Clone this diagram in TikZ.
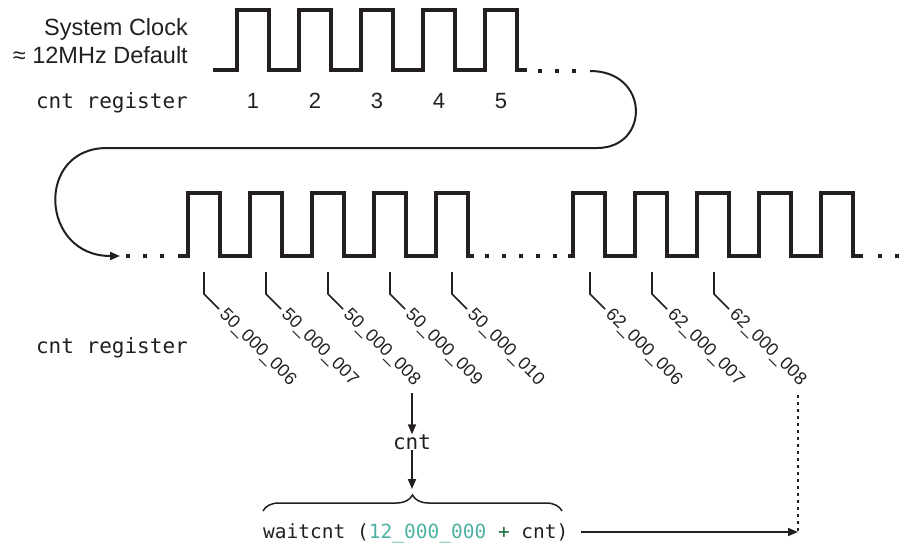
\documentclass[tikz,border=0pt]{standalone}
\usepackage{fontspec}
\setmainfont{Liberation Sans}
\newfontfamily\monofam{DejaVu Sans Mono}
\usetikzlibrary{arrows.meta,decorations.pathreplacing}
\definecolor{ink}{RGB}{35,31,32}
\definecolor{tealnum}{RGB}{78,178,163}
\definecolor{plusgreen}{RGB}{30,110,60}
\tikzset{
  wave/.style={draw=ink,line width=3.4pt,line join=miter},
  tickline/.style={draw=ink,line width=1.6pt},
  ticklabel/.style={anchor=west,rotate=-45,inner sep=0pt,text=ink,font=\fontsize{18}{20}\selectfont},
  sanslabel/.style={inner sep=0pt,text=ink,font=\fontsize{23.5}{27}\selectfont},
  numlabel/.style={inner sep=0pt,text=ink,font=\fontsize{22}{26}\selectfont},
  monolabel/.style={inner sep=0pt,text=ink,font=\monofam\fontsize{21}{24}\selectfont},
  loopline/.style={draw=ink,line width=2pt},
  flow/.style={draw=ink,line width=1.8pt,-{Triangle[length=10pt,width=8pt]}},
  dotline/.style={draw=ink,line width=2.4pt,dash pattern=on 2.5pt off 4.5pt},
}
\newcommand{\wdot}[2]{\fill[ink] ({#1-2.2},{#2-2.2}) rectangle +(4.4,4.4);}
\begin{document}
\begin{tikzpicture}[x=1pt,y=-1pt]
\useasboundingbox (0,0) rectangle (909,544);
% left texts
\node[sanslabel,anchor=base east] (sys) at (188,35) {System Clock};
\node[sanslabel,anchor=base east] (freq) at (188,63) {≈ 12MHz Default};
\node[monolabel,anchor=base east] (reg1) at (188,108) {cnt register};
\node[monolabel,anchor=base east] (reg2) at (188,353) {cnt register};
% top waveform
\draw[wave] (213,70) foreach \k in {0,...,4} { -- ({237+62*\k},70) -- ({237+62*\k},10) -- ({269+62*\k},10) -- ({269+62*\k},70) } -- (527,70);
\foreach \x in {540,557,574} {\wdot{\x}{71}}
\foreach \k/\n in {0/1,1/2,2/3,3/4,4/5}
  \node[numlabel,anchor=base] (n\n) at ({253+62*\k},108) {\n};
% middle waveform, group 1
\foreach \x in {128,145,162} {\wdot{\x}{256}}
\draw[wave] (178,256) foreach \k in {0,...,4} { -- ({188+62*\k},256) -- ({188+62*\k},193) -- ({220+62*\k},193) -- ({220+62*\k},256) } -- (474,256);
\foreach \x in {487,504,521,538,555} {\wdot{\x}{256}}
% group 2
\draw[wave] (568,256) foreach \k in {0,...,4} { -- ({573+62*\k},256) -- ({573+62*\k},193) -- ({605+62*\k},193) -- ({605+62*\k},256) } -- (863,256);
\foreach \x in {880,897} {\wdot{\x}{256}}
% loop connector
\coordinate (loopstart) at (590,71);
\coordinate (loopend) at (120,256);
\draw[loopline,-{Triangle[length=10pt,width=8pt]}] (loopstart) .. controls (650,71) and (650,148) .. (597,148) -- (107,148) .. controls (35,148) and (40,256) .. (loopend);
% ticks and labels
\foreach \k/\t in {0/006,1/007,2/008,3/009,4/010} {
  \draw[tickline] ({204+62*\k},272) -- ({204+62*\k},294) -- ({219+62*\k},309);
  \node[ticklabel] (a\t) at ({222+62*\k},312) {50\_000\_\t};
}
\foreach \k/\t in {0/006,1/007,2/008} {
  \draw[tickline] ({590+62*\k},272) -- ({590+62*\k},294) -- ({605+62*\k},309);
  \node[ticklabel] (b\t) at ({608+62*\k},312) {62\_000\_\t};
}
% cnt and waitcnt
\node[monolabel] (cnt) at (412,442) {cnt};
\coordinate (c8) at (412,393);
\draw[flow] (c8) -- (cnt.north);
\coordinate (bl) at (263,511);
\coordinate (br) at (562,511);
\draw[ink,line width=1.5pt,decorate,decoration={brace,amplitude=16pt}] (bl) -- (br);
\coordinate (btip) at (412,489);
\draw[flow] (cnt.south) -- (btip);
\node[inner sep=0pt,anchor=base west,text=ink,font=\monofam\fontsize{19.5}{22}\selectfont] (wait) at (263,538)
  {waitcnt (\textcolor{tealnum}{12\_000\_000} \textcolor{plusgreen}{+} cnt)};
\coordinate (dtop) at (798,395);
\coordinate (dbot) at (798,532);
\draw[dotline] (dtop) -- (dbot);
\coordinate (wstart) at (581,532);
\draw[flow] (wstart) -- (dbot);
\end{tikzpicture}
\end{document}
